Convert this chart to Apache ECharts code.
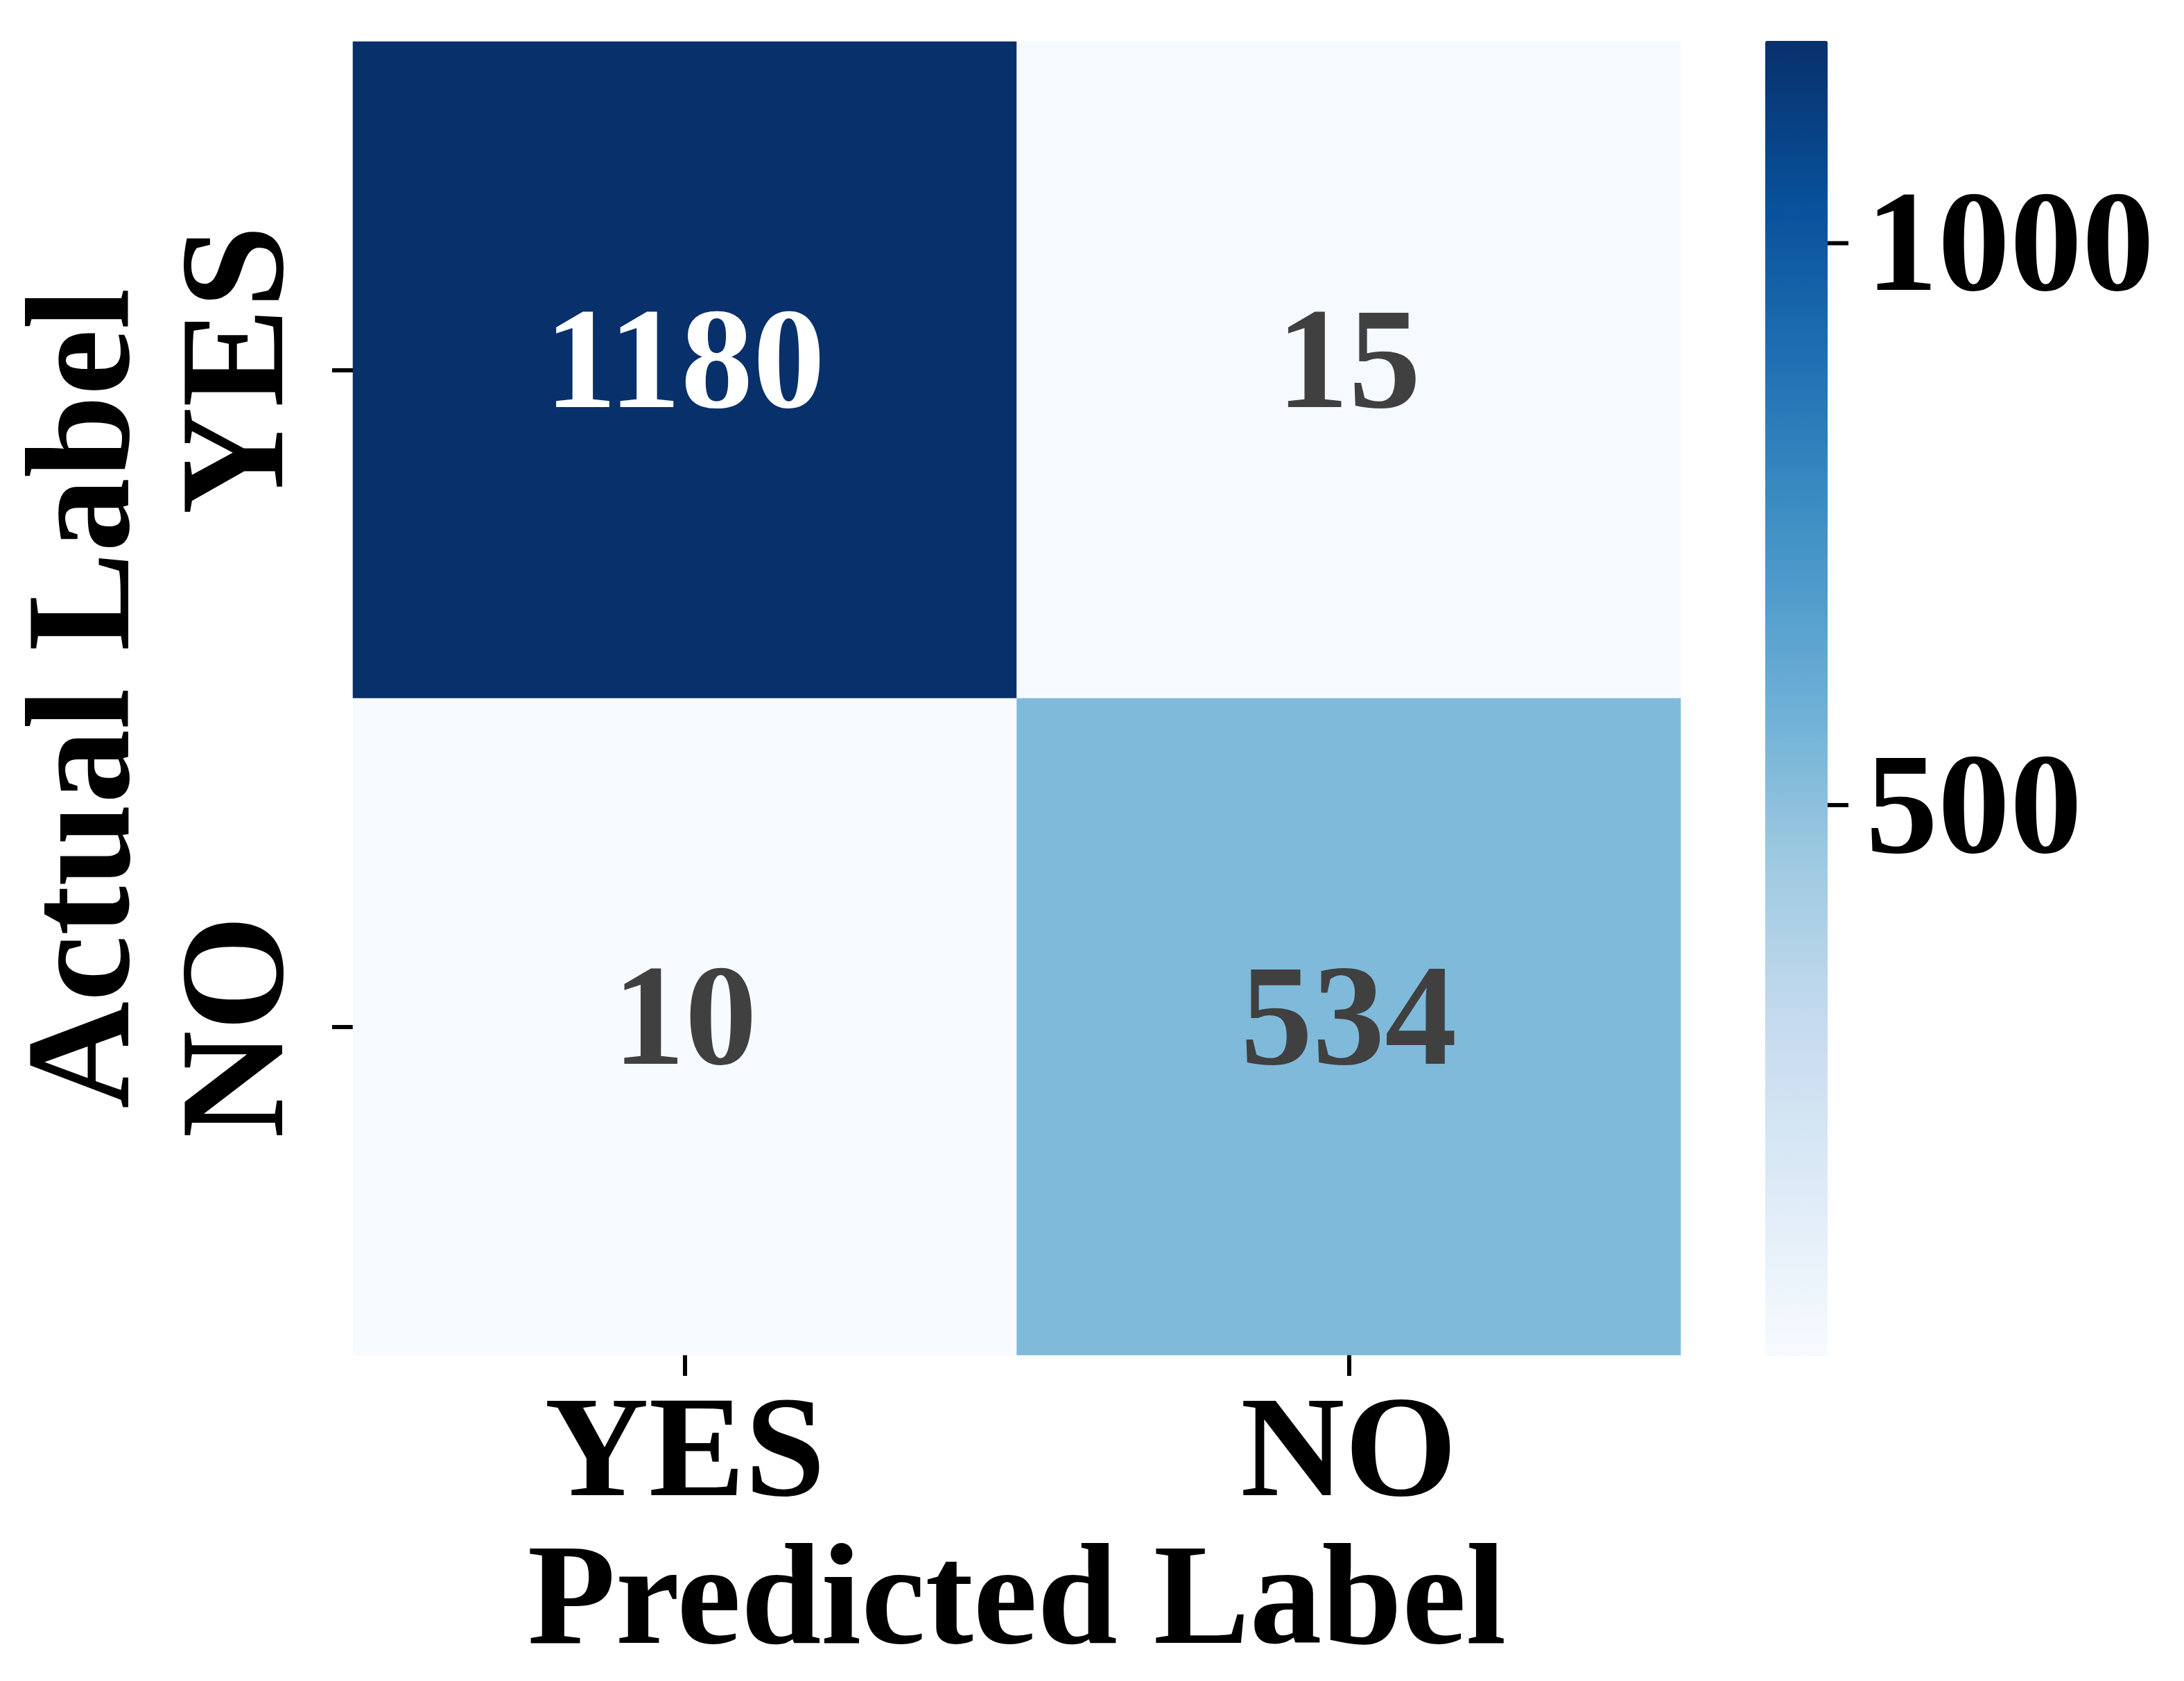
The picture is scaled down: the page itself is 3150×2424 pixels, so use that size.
<!DOCTYPE html>
<html>
<head>
<meta charset="utf-8">
<script src="https://cdn.jsdelivr.net/npm/echarts@6/dist/echarts.min.js"></script>
<style>
html,body{margin:0;padding:0;background:#fff;}
#chart{width:3150px;height:2424px;}
</style>
</head>
<body>
<div id="chart"></div>
<script>
// ---- data ----
const predictedLabels = ['YES', 'NO'];          // x categories
const actualLabels = ['YES', 'NO'];             // y categories (top to bottom)
const rowYES = [1180, 15];                       // actual YES: predicted YES, NO
const rowNO = [10, 534];                         // actual NO:  predicted YES, NO
const colorbarTicks = [500, 1000];
const colorMin = 10;
const colorMax = 1180;
const blues = ['#f7fbff','#deebf7','#c6dbef','#9ecae1','#6baed6','#4292c6','#2171b5','#08519c','#08306b'];

const FONT = "'Liberation Serif', 'Times New Roman', serif";
const FS = 208;
const FSV = 214;

const rows = [rowYES, rowNO];
const heatData = [];
rows.forEach((row, yi) => {
  row.forEach((v, xi) => {
    const dark = (v - colorMin) / (colorMax - colorMin) > 0.6;
    heatData.push({
      value: [xi, yi, v],
      label: { color: dark ? '#ffffff' : '#404040' }
    });
  });
});

const chart = echarts.init(document.getElementById('chart'), null, { renderer: 'canvas' });
chart.setOption({
  backgroundColor: '#ffffff',
  animation: false,
  grid: [
    { left: 509, top: 60, width: 1915, height: 1894 },
    { left: 2546, top: 59, width: 90, height: 1896 }
  ],
  xAxis: [
    {
      type: 'category', gridIndex: 0, data: predictedLabels, position: 'bottom',
      axisLine: { show: false },
      axisTick: { show: true, alignWithLabel: true, length: 30, lineStyle: { color: '#000', width: 6 } },
      axisLabel: { fontFamily: FONT, fontWeight: 'bold', fontSize: FS, lineHeight: FS, color: '#000', margin: 44 },
      splitLine: { show: false },
      name: 'Predicted Label', nameLocation: 'middle', nameGap: 257,
      nameTextStyle: { fontFamily: FONT, fontWeight: 'bold', fontSize: FS, lineHeight: FS, color: '#000', verticalAlign: 'top' }
    },
    { type: 'value', gridIndex: 1, show: false, min: 0, max: 1 }
  ],
  yAxis: [
    {
      type: 'category', gridIndex: 0, data: actualLabels, inverse: true, position: 'left',
      axisLine: { show: false },
      axisTick: { show: true, alignWithLabel: true, length: 30, lineStyle: { color: '#000', width: 6 } },
      axisLabel: { fontFamily: FONT, fontWeight: 'bold', fontSize: FSV, lineHeight: FSV, color: '#000', rotate: 90, margin: 50 },
      splitLine: { show: false },
      name: 'Actual Label', nameLocation: 'middle', nameGap: 268, nameRotate: 90,
      nameTextStyle: { fontFamily: FONT, fontWeight: 'bold', fontSize: FSV, lineHeight: FSV, color: '#000' }
    },
    {
      type: 'value', gridIndex: 1, position: 'right', min: colorMin, max: colorMax,
      axisLine: { show: false },
      splitLine: { show: false },
      axisTick: { show: false },
      axisLabel: { show: true, customValues: colorbarTicks, formatter: v => String(v), fontFamily: FONT, fontWeight: 'bold', fontSize: FS, lineHeight: 28, verticalAlign: 'top', color: '#000', margin: 55 }
    }
  ],
  visualMap: {
    type: 'continuous', min: colorMin, max: colorMax, seriesIndex: 0,
    calculable: false, show: true, orient: 'vertical',
    left: 2546, top: 59, itemWidth: 90, itemHeight: 1896, padding: 0,
    text: null, showLabel: false, hoverLink: false,
    inRange: { color: blues }
  },
  series: [{
    type: 'heatmap', xAxisIndex: 0, yAxisIndex: 0,
    data: heatData,
    label: { show: true, fontFamily: FONT, fontWeight: 'bold', fontSize: FS, formatter: p => String(p.value[2]) },
    itemStyle: { borderWidth: 0 },
    emphasis: { disabled: true }
  }]
});

// colorbar tick marks, positioned through the colorbar axis scale
const cbRight = 2636;
chart.setOption({
  graphic: colorbarTicks.map(v => {
    const y = chart.convertToPixel({ yAxisIndex: 1 }, v);
    return {
      type: 'line', z: 100,
      shape: { x1: cbRight, y1: y, x2: cbRight + 30, y2: y },
      style: { stroke: '#000', lineWidth: 6 }
    };
  })
});
</script>
</body>
</html>
